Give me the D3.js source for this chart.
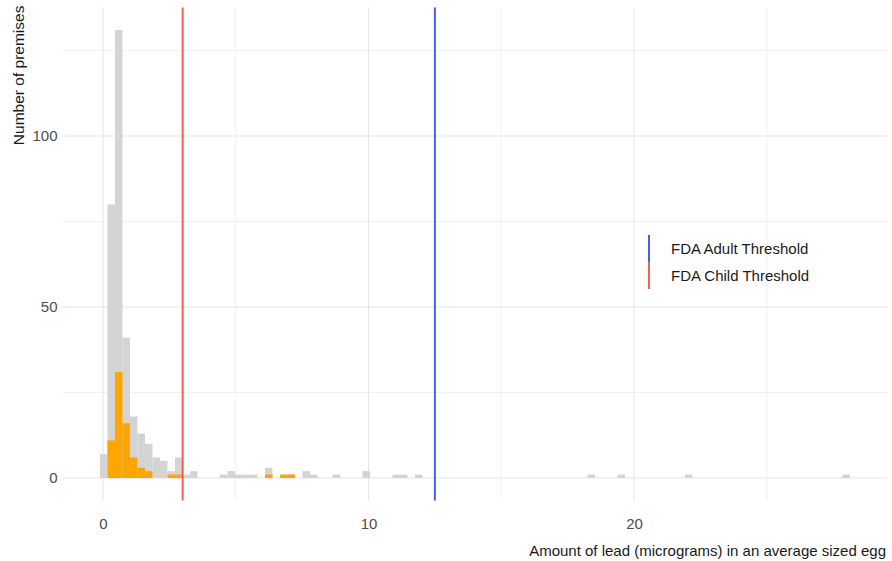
<!DOCTYPE html>
<html>
<head>
<meta charset="utf-8">
<script src="https://cdn.jsdelivr.net/npm/d3@7"></script>
<style>
  html, body { margin: 0; padding: 0; background: #ffffff; }
  svg { display: block; font-family: "Liberation Sans", Arial, Helvetica, sans-serif; }
</style>
</head>
<body>
<svg id="chart" width="892" height="561"></svg>
<script>
// ---- data ----
const leadMin = 0.028;      // centre of first bin (micrograms)
const leadMax = 27.99;      // centre of last bin
const binCount = 100;

// counts per bin, all premises (grey)
const allCounts = [
  7, 80, 131, 41, 18, 13, 10, 6, 5, 2,
  6, 1, 2, 0, 0, 0, 1, 2, 1, 1,
  1, 0, 3, 0, 1, 1, 0, 2, 1, 0,
  0, 1, 0, 0, 0, 2, 0, 0, 0, 1,
  1, 0, 1, 0, 0, 0, 0, 0, 0, 0,
  0, 0, 0, 0, 0, 0, 0, 0, 0, 0,
  0, 0, 0, 0, 0, 1, 0, 0, 0, 1,
  0, 0, 0, 0, 0, 0, 0, 0, 1, 0,
  0, 0, 0, 0, 0, 0, 0, 0, 0, 0,
  0, 0, 0, 0, 0, 0, 0, 0, 0, 1
];
// counts per bin, highlighted subset (orange)
const subsetCounts = [
  0, 11, 31, 16, 6, 3, 2, 0, 0, 1,
  1, 0, 0, 0, 0, 0, 0, 0, 0, 0,
  0, 0, 1, 0, 1, 1, 0, 0, 0, 0,
  0, 0, 0, 0, 0, 0, 0, 0, 0, 0,
  0, 0, 0, 0, 0, 0, 0, 0, 0, 0,
  0, 0, 0, 0, 0, 0, 0, 0, 0, 0,
  0, 0, 0, 0, 0, 0, 0, 0, 0, 0,
  0, 0, 0, 0, 0, 0, 0, 0, 0, 0,
  0, 0, 0, 0, 0, 0, 0, 0, 0, 0,
  0, 0, 0, 0, 0, 0, 0, 0, 0, 0
];

const thresholdNames = ["FDA Adult Threshold", "FDA Child Threshold"];
const thresholdValues = [12.5, 3];
const thresholdColors = ["#4a5cf2", "#f3604e"];

const xTicks = [0, 10, 20];
const xMinor = [5, 15, 25];
const yTicks = [0, 50, 100];
const yMinor = [25, 75, 125];

const xTitle = "Amount of lead (micrograms) in an average sized egg";
const yTitle = "Number of premises";

// ---- layout ----
const svg = d3.select("#chart");
const panel = { left: 62.5, right: 887.4, top: 7.6, bottom: 500.4 };

const binWidth = (leadMax - leadMin) / (binCount - 1);
const bins = d3.range(binCount).map(i => ({
  x0: leadMin - binWidth / 2 + i * binWidth,
  x1: leadMin + binWidth / 2 + i * binWidth,
  all: allCounts[i],
  sub: subsetCounts[i]
}));

const xLo = bins[0].x0, xHi = bins[binCount - 1].x1;
const xPad = (xHi - xLo) * 0.05;
const x = d3.scaleLinear().domain([xLo - xPad, xHi + xPad]).range([panel.left, panel.right]);
const yMax = d3.max(allCounts);
const yPad = yMax * 0.05;
const y = d3.scaleLinear().domain([-yPad, yMax + yPad]).range([panel.bottom, panel.top]);

// grid
const grid = svg.append("g");
grid.selectAll(".ymin").data(yMinor).join("line")
  .attr("x1", panel.left).attr("x2", panel.right)
  .attr("y1", d => y(d)).attr("y2", d => y(d))
  .attr("stroke", "#eeeeee").attr("stroke-width", 0.8);
grid.selectAll(".xmin").data(xMinor).join("line")
  .attr("y1", panel.top).attr("y2", panel.bottom)
  .attr("x1", d => x(d)).attr("x2", d => x(d))
  .attr("stroke", "#eeeeee").attr("stroke-width", 0.8);
grid.selectAll(".ymaj").data(yTicks).join("line")
  .attr("x1", panel.left).attr("x2", panel.right)
  .attr("y1", d => y(d)).attr("y2", d => y(d))
  .attr("stroke", "#e6e6e6").attr("stroke-width", 1.1);
grid.selectAll(".xmaj").data(xTicks).join("line")
  .attr("y1", panel.top).attr("y2", panel.bottom)
  .attr("x1", d => x(d)).attr("x2", d => x(d))
  .attr("stroke", "#e6e6e6").attr("stroke-width", 1.1);

// bars: all premises (grey)
svg.append("g").selectAll("rect").data(bins.filter(b => b.all > 0)).join("rect")
  .attr("x", d => x(d.x0)).attr("width", d => x(d.x1) - x(d.x0))
  .attr("y", d => y(d.all)).attr("height", d => y(0) - y(d.all))
  .attr("fill", "#d4d4d4");
// bars: subset (orange)
svg.append("g").selectAll("rect").data(bins.filter(b => b.sub > 0)).join("rect")
  .attr("x", d => x(d.x0)).attr("width", d => x(d.x1) - x(d.x0))
  .attr("y", d => y(d.sub)).attr("height", d => y(0) - y(d.sub))
  .attr("fill", "#ffa500");

// threshold lines
svg.append("g").selectAll("line").data(thresholdValues).join("line")
  .attr("x1", d => x(d)).attr("x2", d => x(d))
  .attr("y1", panel.top).attr("y2", panel.bottom)
  .attr("stroke", (d, i) => thresholdColors[i]).attr("stroke-width", 2);

// axes (text only, like theme_minimal)
const xAxis = svg.append("g").attr("transform", `translate(0,${panel.bottom})`)
  .call(d3.axisBottom(x).tickValues(xTicks).tickSize(0).tickPadding(18).tickFormat(d3.format("d")));
xAxis.select(".domain").remove();
xAxis.selectAll("text").attr("font-size", 15).attr("fill", "#4d4d4d")
  .attr("font-family", "Liberation Sans, Arial, sans-serif");

const yAxis = svg.append("g").attr("transform", `translate(${panel.left},0)`)
  .call(d3.axisLeft(y).tickValues(yTicks).tickSize(0).tickPadding(5).tickFormat(d3.format("d")));
yAxis.select(".domain").remove();
yAxis.selectAll("text").attr("font-size", 15).attr("fill", "#4d4d4d")
  .attr("font-family", "Liberation Sans, Arial, sans-serif");

// axis titles
svg.append("text")
  .attr("x", 886).attr("y", 556)
  .attr("text-anchor", "end").attr("font-size", 15).attr("fill", "#1a1a1a")
  .text(xTitle);
svg.append("text")
  .attr("transform", `translate(24,${panel.top - 2}) rotate(-90)`)
  .attr("text-anchor", "end").attr("font-size", 15.5).attr("fill", "#1a1a1a")
  .text(yTitle);

// legend
const legend = svg.append("g").attr("transform", "translate(649,235)");
thresholdNames.forEach((name, i) => {
  legend.append("line")
    .attr("x1", 0).attr("x2", 0)
    .attr("y1", i * 27).attr("y2", i * 27 + 27)
    .attr("stroke", thresholdColors[i]).attr("stroke-width", 2);
  legend.append("text")
    .attr("x", 22).attr("y", i * 27 + 19)
    .attr("font-size", 15).attr("fill", "#1a1a1a")
    .text(name);
});
</script>
</body>
</html>
